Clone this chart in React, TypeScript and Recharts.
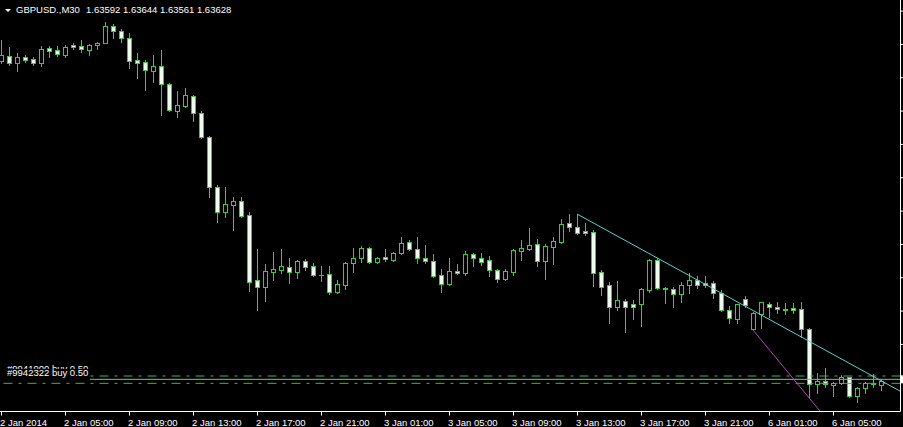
import React from 'react';
import { ComposedChart, Bar, XAxis, YAxis, ReferenceLine } from 'recharts';

// ---- data (GBPUSD M30, bar 0 = 2 Jan 2014 01:00) ----
const opens = [
  1.66026, 1.66063, 1.66010, 1.66055, 1.66040, 1.66010, 1.66123, 1.66108, 1.66070, 1.66142,
  1.66138, 1.66108, 1.66145, 1.66160, 1.66288, 1.66250, 1.66198, 1.66033, 1.66018, 1.65950,
  1.65988, 1.65853, 1.65650, 1.65688, 1.65763, 1.65635, 1.65455, 1.65080, 1.64893, 1.64945,
  1.64975, 1.64870, 1.64383, 1.64330, 1.64443, 1.64458, 1.64480, 1.64443, 1.64525, 1.64488,
  1.64424, 1.64428, 1.64293, 1.64345, 1.64510, 1.64548, 1.64623, 1.64518, 1.64555, 1.64533,
  1.64585, 1.64668, 1.64616, 1.64548, 1.64525, 1.64420, 1.64353, 1.64450, 1.64435, 1.64578,
  1.64548, 1.64533, 1.64458, 1.64390, 1.64443, 1.64600, 1.64616, 1.64653, 1.64525, 1.64630,
  1.64668, 1.64810, 1.64780, 1.64750, 1.64743, 1.64443, 1.64345, 1.64180, 1.64225, 1.64203,
  1.64203, 1.64308, 1.64533, 1.64323, 1.64315, 1.64278, 1.64345, 1.64383, 1.64360, 1.64360,
  1.64285, 1.64158, 1.64090, 1.64240, 1.64016, 1.64128, 1.64203, 1.64180, 1.64165, 1.64173,
  1.64165, 1.64016, 1.63603, 1.63626, 1.63596, 1.63611, 1.63656, 1.63513, 1.63573, 1.63603,
  1.63592,
];
const highs = [
  1.66183, 1.66130, 1.66085, 1.66070, 1.66055, 1.66138, 1.66138, 1.66138, 1.66145, 1.66160,
  1.66183, 1.66153, 1.66168, 1.66318, 1.66303, 1.66265, 1.66235, 1.66085, 1.66033, 1.66070,
  1.66108, 1.65860, 1.65800, 1.65823, 1.65770, 1.65650, 1.65463, 1.65095, 1.65080, 1.65005,
  1.65005, 1.64893, 1.64616, 1.64503, 1.64593, 1.64616, 1.64548, 1.64533, 1.64540, 1.64510,
  1.64488, 1.64488, 1.64383, 1.64518, 1.64623, 1.64638, 1.64630, 1.64555, 1.64616, 1.64593,
  1.64705, 1.64683, 1.64705, 1.64645, 1.64578, 1.64465, 1.64548, 1.64503, 1.64600, 1.64585,
  1.64585, 1.64563, 1.64465, 1.64465, 1.64616, 1.64683, 1.64773, 1.64690, 1.64653, 1.64705,
  1.64840, 1.64878, 1.64878, 1.64810, 1.64758, 1.64458, 1.64368, 1.64375, 1.64240, 1.64233,
  1.64323, 1.64540, 1.64548, 1.64330, 1.64330, 1.64368, 1.64435, 1.64413, 1.64413, 1.64375,
  1.64308, 1.64188, 1.64206, 1.64263, 1.64143, 1.64221, 1.64218, 1.64218, 1.64210, 1.64210,
  1.64218, 1.64023, 1.63686, 1.63723, 1.63618, 1.63671, 1.63659, 1.63577, 1.63618, 1.63678,
  1.63644,
];
const lows = [
  1.66010, 1.65995, 1.65950, 1.66018, 1.65995, 1.65988, 1.66055, 1.66063, 1.66055, 1.66115,
  1.66093, 1.66070, 1.66115, 1.66157, 1.66198, 1.66168, 1.65973, 1.65898, 1.65808, 1.65868,
  1.65620, 1.65650, 1.65605, 1.65680, 1.65575, 1.65448, 1.65005, 1.64818, 1.64855, 1.64758,
  1.64855, 1.64300, 1.64158, 1.64225, 1.64383, 1.64435, 1.64360, 1.64398, 1.64458, 1.64413,
  1.64375, 1.64278, 1.64285, 1.64315, 1.64443, 1.64518, 1.64510, 1.64510, 1.64525, 1.64525,
  1.64578, 1.64608, 1.64510, 1.64510, 1.64405, 1.64293, 1.64345, 1.64428, 1.64420, 1.64488,
  1.64495, 1.64413, 1.64368, 1.64383, 1.64420, 1.64533, 1.64608, 1.64488, 1.64390, 1.64503,
  1.64660, 1.64750, 1.64728, 1.64720, 1.64338, 1.64270, 1.64060, 1.64158, 1.63993, 1.64090,
  1.64038, 1.64293, 1.64315, 1.64210, 1.64180, 1.64218, 1.64285, 1.64323, 1.64330, 1.64248,
  1.64150, 1.64060, 1.64060, 1.64180, 1.64008, 1.64023, 1.64105, 1.64136, 1.64128, 1.64136,
  1.63956, 1.63506, 1.63536, 1.63581, 1.63513, 1.63603, 1.63506, 1.63468, 1.63536, 1.63581,
  1.63561,
];
const closes = [
  1.66070, 1.66010, 1.66055, 1.66033, 1.66010, 1.66115, 1.66100, 1.66078, 1.66130, 1.66130,
  1.66115, 1.66145, 1.66160, 1.66288, 1.66250, 1.66198, 1.66026, 1.66010, 1.65958, 1.65988,
  1.65853, 1.65658, 1.65695, 1.65770, 1.65635, 1.65455, 1.65080, 1.64893, 1.64953, 1.64975,
  1.64863, 1.64368, 1.64330, 1.64450, 1.64465, 1.64488, 1.64443, 1.64525, 1.64480, 1.64420,
  1.64420, 1.64293, 1.64353, 1.64510, 1.64548, 1.64623, 1.64518, 1.64548, 1.64540, 1.64585,
  1.64660, 1.64616, 1.64548, 1.64525, 1.64413, 1.64353, 1.64450, 1.64435, 1.64578, 1.64548,
  1.64518, 1.64458, 1.64390, 1.64450, 1.64608, 1.64623, 1.64645, 1.64525, 1.64638, 1.64675,
  1.64803, 1.64780, 1.64735, 1.64735, 1.64435, 1.64330, 1.64180, 1.64233, 1.64180, 1.64180,
  1.64315, 1.64533, 1.64323, 1.64318, 1.64278, 1.64345, 1.64383, 1.64345, 1.64345, 1.64285,
  1.64158, 1.64098, 1.64203, 1.64195, 1.64136, 1.64218, 1.64180, 1.64165, 1.64158, 1.64158,
  1.64016, 1.63603, 1.63626, 1.63603, 1.63611, 1.63656, 1.63513, 1.63573, 1.63611, 1.63611,
  1.63628,
];

const tickBars = [0, 8, 16, 24, 32, 40, 48, 56, 64, 72, 80, 88, 96, 104];
const tickLabels = [
  '2 Jan 2014', '2 Jan 05:00', '2 Jan 09:00', '2 Jan 13:00', '2 Jan 17:00', '2 Jan 21:00',
  '3 Jan 01:00', '3 Jan 05:00', '3 Jan 09:00', '3 Jan 13:00', '3 Jan 17:00', '3 Jan 21:00',
  '6 Jan 01:00', '6 Jan 05:00',
];
const priceTicks = [1.6365, 1.639, 1.6415, 1.644, 1.6465, 1.649, 1.6515, 1.654, 1.6565, 1.659, 1.6615, 1.664];

const symbol = 'GBPUSD.,M30';
const orderPrices = [1.63663, 1.63608];
const orderLabels = ['#9941900 buy 0.50', '#9942322 buy 0.50'];
const bidPrice = 1.63638;
const cyanTrend = [{ x: 72, y: 1.64878 }, { x: 112.4375, y: 1.63548 }];
const magentaTrend = [{ x: 94, y: 1.64008 }, { x: 103, y: 1.63355 }];

const data = opens.map((o, i) => ({
  i, o, h: highs[i], l: lows[i], c: closes[i], range: [lows[i], highs[i]],
}));

// ---- styling ----
const FONT = '"Liberation Sans", Arial, sans-serif';
const GREEN = '#38d038';
const BEAR_FILL = '#effdef';
const Y_DOMAIN: [number, number] = [1.6339675, 1.66483];
const X_DOMAIN: [number, number] = [-0.125, 112.4375];

const Candle = (props: any) => {
  const { x, y, width, height, payload } = props;
  if (x == null || y == null || !payload) return <g />;
  const { o, h, l, c } = payload;
  const top = Math.min(y, y + height);
  const hh = Math.abs(height);
  const k = h === l ? 0 : hh / (h - l);
  const py = (p: number) => top + (h - p) * k;
  const cx = Math.round(x + width / 2) + 0.5;
  const yTop = Math.round(py(Math.max(o, c))) + 0.5;
  const yBot = Math.round(py(Math.min(o, c))) + 0.5;
  const bull = c > o;
  return (
    <g>
      <line x1={cx} x2={cx} y1={Math.round(py(h))} y2={Math.round(py(l)) + 1} stroke={GREEN} strokeWidth={1} />
      {yBot - yTop < 1 ? (
        <line x1={cx - 2.5} x2={cx + 2.5} y1={yTop} y2={yTop} stroke={GREEN} strokeWidth={1} />
      ) : (
        <rect x={cx - 2} y={yTop} width={4} height={yBot - yTop} fill={bull ? '#000' : BEAR_FILL} stroke={GREEN} strokeWidth={1} />
      )}
    </g>
  );
};

const TimeTick = (props: any) => {
  const { x, y, payload } = props;
  const idx = tickBars.indexOf(payload.value);
  const px = Math.round(x) + 0.5;
  return (
    <g>
      <line x1={px} x2={px} y1={y} y2={y + 4} stroke="#fff" />
      <text x={Math.round(x) - 1} y={y + 14} fill="#fff" fontSize={9.5} fontFamily={FONT} textAnchor="start">
        {tickLabels[idx]}
      </text>
    </g>
  );
};

const orderLabel = (text: string, dy: number) => (props: any) => {
  const vb = props.viewBox || {};
  const base = vb.y + dy;
  return (
    <g>
      <rect x={0} y={base - 7.5} width={90} height={12} fill="#000" />
      <text x={7} y={base} fill="#fff" fontSize={9.5} fontFamily={FONT}>{text}</text>
    </g>
  );
};

const bidMarker = (props: any) => {
  const vb = props.viewBox || {};
  return <rect x={vb.x + vb.width + 0.5} y={vb.y - 4} width={4} height={8} fill="#fff" />;
};

const last = opens.length - 1;
const titlePrices = [opens[last], highs[last], lows[last], closes[last]].map((v) => v.toFixed(5)).join(' ');

export default function App() {
  return (
    <div style={{ position: 'fixed', left: 0, top: 0, width: 903, height: 427, background: '#000', overflow: 'hidden' }}>
      <ComposedChart width={903} height={427} data={data} margin={{ top: 0, right: 0, bottom: 0, left: 0 }}>
        <XAxis
          dataKey="i"
          type="number"
          domain={X_DOMAIN}
          allowDataOverflow
          ticks={tickBars}
          interval={0}
          height={15.5}
          tickSize={0}
          tickMargin={0}
          tickLine={false}
          axisLine={{ stroke: '#fff' }}
          tick={(p: any) => <TimeTick {...p} />}
        />
        <YAxis
          orientation="right"
          type="number"
          domain={Y_DOMAIN}
          allowDataOverflow
          width={2.5}
          ticks={priceTicks}
          interval={0}
          tickSize={3}
          tickMargin={0}
          tickLine={{ stroke: '#fff' }}
          axisLine={{ stroke: '#fff' }}
          tick={() => <g />}
        />
        <Bar dataKey="range" barSize={4} shape={(p: any) => <Candle {...p} />} isAnimationActive={false} />
        <ReferenceLine y={bidPrice} stroke="#a6a2c2" strokeWidth={1} label={bidMarker} />
        <ReferenceLine y={orderPrices[0]} stroke="#3cb83c" strokeDasharray="9 6 3 6" label={orderLabel(orderLabels[0], -4.5)} />
        <ReferenceLine y={orderPrices[1]} stroke="#3cb83c" strokeDasharray="9 6 3 6" label={orderLabel(orderLabels[1], -7)} />
        <ReferenceLine segment={cyanTrend} stroke="#5fd0d0" strokeWidth={1} ifOverflow="hidden" />
        <ReferenceLine segment={magentaTrend} stroke="#b04cb8" strokeWidth={1} ifOverflow="hidden" />
      </ComposedChart>
      <svg style={{ position: 'absolute', left: 0, top: 0 }} width={300} height={16}>
        <polygon points="5,9 11,9 8,12" fill="#fff" />
        <text x={16} y={12.7} fill="#fff" fontSize={9.5} fontFamily={FONT}>{symbol}</text>
        <text x={86} y={12.7} fill="#fff" fontSize={9.5} fontFamily={FONT}>{titlePrices}</text>
      </svg>
    </div>
  );
}
